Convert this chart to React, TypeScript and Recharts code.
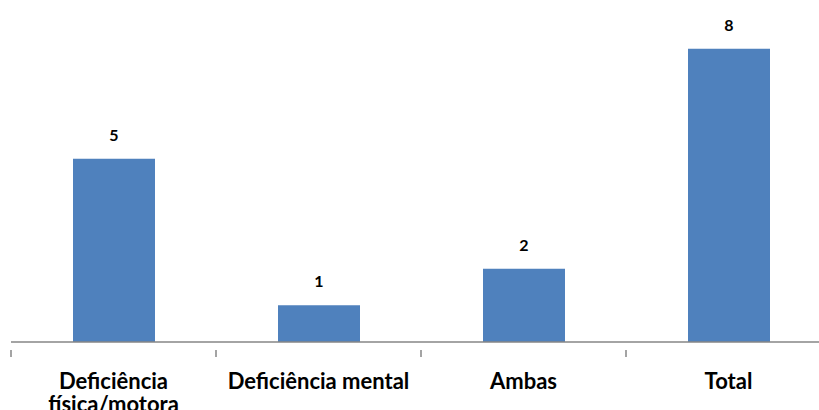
import { Bar, BarChart, LabelList, XAxis, YAxis } from 'recharts';

const categories = ['Deficiência física/motora', 'Deficiência mental', 'Ambas', 'Total'];
const counts = [5, 1, 2, 8];

const data = categories.map((name, i) => ({ name, value: counts[i] }));

const chartWidth = 840;
const chartHeight = 410;
const margin = { top: 12, right: 9, left: 11, bottom: 0 };
const band = (chartWidth - margin.left - margin.right) / categories.length;

const font = 'Lato, "Open Sans", sans-serif';
const tickFontSize = 22;

let ctx: CanvasRenderingContext2D | null = null;
function measure(s: string) {
  if (!ctx) ctx = document.createElement('canvas').getContext('2d');
  if (!ctx) return s.length * tickFontSize * 0.5;
  ctx.font = `700 ${tickFontSize}px ${font}`;
  return ctx.measureText(s).width;
}

function wrap(label: string, maxWidth: number) {
  const lines: string[] = [];
  let cur = '';
  for (const w of label.split(' ')) {
    const next = cur ? cur + ' ' + w : w;
    if (cur && measure(next) > maxWidth) {
      lines.push(cur);
      cur = w;
    } else {
      cur = next;
    }
  }
  if (cur) lines.push(cur);
  return lines;
}

function CategoryTick(props: any) {
  const { x, y, payload, index } = props;
  const left = x - band / 2;
  const lines = wrap(payload.value, band - 8);
  return (
    <g>
      <line x1={left} x2={left} y1={y} y2={y + 7} stroke="#868686" strokeWidth={1.5} />
      {index === categories.length - 1 && (
        <line x1={left + band} x2={left + band} y1={y} y2={y + 7} stroke="#868686" strokeWidth={1.5} />
      )}
      <text
        x={x}
        y={y + 39}
        textAnchor="middle"
        fontFamily={font}
        fontWeight={700}
        fontSize={tickFontSize}
        fill="#000"
      >
        {lines.map((l, i) => (
          <tspan key={i} x={x} dy={i === 0 ? 0 : 23}>
            {l}
          </tspan>
        ))}
      </text>
    </g>
  );
}

export default function App() {
  return (
    <div style={{ position: 'absolute', left: 0, top: 0, width: 819, height: 410, overflow: 'hidden', background: '#fff' }}>
      <BarChart width={chartWidth} height={chartHeight} data={data} margin={margin} barSize={82}>
        <YAxis hide domain={[0, 9]} />
        <XAxis
          dataKey="name"
          height={68}
          interval={0}
          tickLine={false}
          axisLine={{ stroke: '#868686', strokeWidth: 1.5 }}
          tick={<CategoryTick />}
        />
        <Bar dataKey="value" fill="#4F81BD" isAnimationActive={false}>
          <LabelList
            dataKey="value"
            position="top"
            offset={18}
            fill="#000"
            fontFamily={font}
            fontWeight={700}
            fontSize={16}
          />
        </Bar>
      </BarChart>
    </div>
  );
}
